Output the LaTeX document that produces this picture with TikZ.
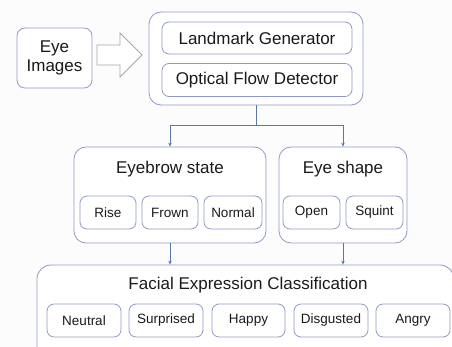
\documentclass[tikz,border=0pt]{standalone}
\usepackage{fontspec}
\setmainfont{Liberation Sans}
\usetikzlibrary{arrows.meta}
\definecolor{edge}{HTML}{8F9AC6}
\definecolor{conn}{HTML}{5B76AE}
\definecolor{txt}{HTML}{1A1A1A}
\definecolor{bg}{HTML}{FCFCFC}
\tikzset{
  box/.style={draw=edge, line width=0.8pt, rounded corners=#1, fill=white, text=txt, inner sep=0pt},
  box/.default=7pt,
  bigtxt/.style={font=\fontsize{17}{20}\selectfont, text=txt, inner sep=0pt},
  smalltxt/.style={font=\fontsize{13.5}{16}\selectfont},
  conline/.style={draw=conn, line width=0.8pt},
  conarrow/.style={conline, -{Stealth[length=4pt,width=3.5pt]}},
}
\begin{document}
\begin{tikzpicture}[x=1pt, y=-1pt]
\clip (0,0) rectangle (452,347);
\fill[bg] (0,0) rectangle (452,347);
% Eye images
\node[box=8pt, minimum width=75pt, minimum height=60pt, align=center,
  font=\fontsize{17}{20}\selectfont] (eye) at (54.5,58) {Eye\\[-1pt]Images};
% block arrow
\draw[draw=gray!70, line width=0.8pt, fill=white]
  (97,45) -- (120,45) -- (120,33) -- (142,55) -- (120,77) -- (120,65) -- (97,65) -- cycle;
% top box
\node[box=12pt, minimum width=214pt, minimum height=93pt] (top) at (256,58.5) {};
\node[box, minimum width=190pt, minimum height=32pt, font=\fontsize{17}{20}\selectfont] (lmk) at (257,38) {Landmark Generator};
\node[box, minimum width=190pt, minimum height=33pt, font=\fontsize{17}{20}\selectfont] (ofd) at (257,80) {Optical Flow Detector};
% middle boxes
\node[box=12pt, minimum width=192pt, minimum height=96pt] (brow) at (170,195) {};
\node[box=12pt, minimum width=128pt, minimum height=96pt] (shape) at (343,195) {};
\node[bigtxt] (browt) at (170,169) {Eyebrow state};
\node[bigtxt] (shapet) at (343,169) {Eye shape};
\node[box, smalltxt, minimum width=56pt, minimum height=33pt] (rise) at (108,212.5) {Rise};
\node[box, smalltxt, minimum width=56pt, minimum height=33pt] (frown) at (170,212.5) {Frown};
\node[box, smalltxt, minimum width=58pt, minimum height=33pt] (normal) at (233,212.5) {Normal};
\node[box, smalltxt, minimum width=57pt, minimum height=33pt] (open) at (311.5,212.5) {Open};
\node[box, smalltxt, minimum width=57pt, minimum height=33pt] (squint) at (374.5,212.5) {Squint};
% bottom box
\node[box=14pt, minimum width=417pt, minimum height=100pt] (fec) at (245.5,315) {};
\node[bigtxt] (fect) at (248,285) {Facial Expression Classification};
\node[box, smalltxt, minimum width=74pt, minimum height=33pt] (neutral) at (84,320.5) {Neutral};
\node[box, smalltxt, minimum width=74pt, minimum height=33pt] (surprised) at (166,320.5) {Surprised};
\node[box, smalltxt, minimum width=73pt, minimum height=33pt] (happy) at (248.5,320.5) {Happy};
\node[box, smalltxt, minimum width=74pt, minimum height=33pt] (disgusted) at (331,320.5) {Disgusted};
\node[box, smalltxt, minimum width=74pt, minimum height=33pt] (angry) at (413,320.5) {Angry};
% connectors
\coordinate (j) at (256,125);
\draw[conline] (top.south) -- (j);
\draw[conarrow] (j) -| (brow.north);
\draw[conarrow] (j) -| (shape.north);
\draw[conarrow] (brow.south) -- (brow.south |- fec.north);
\draw[conarrow] (shape.south) -- (shape.south |- fec.north);
\end{tikzpicture}
\end{document}
